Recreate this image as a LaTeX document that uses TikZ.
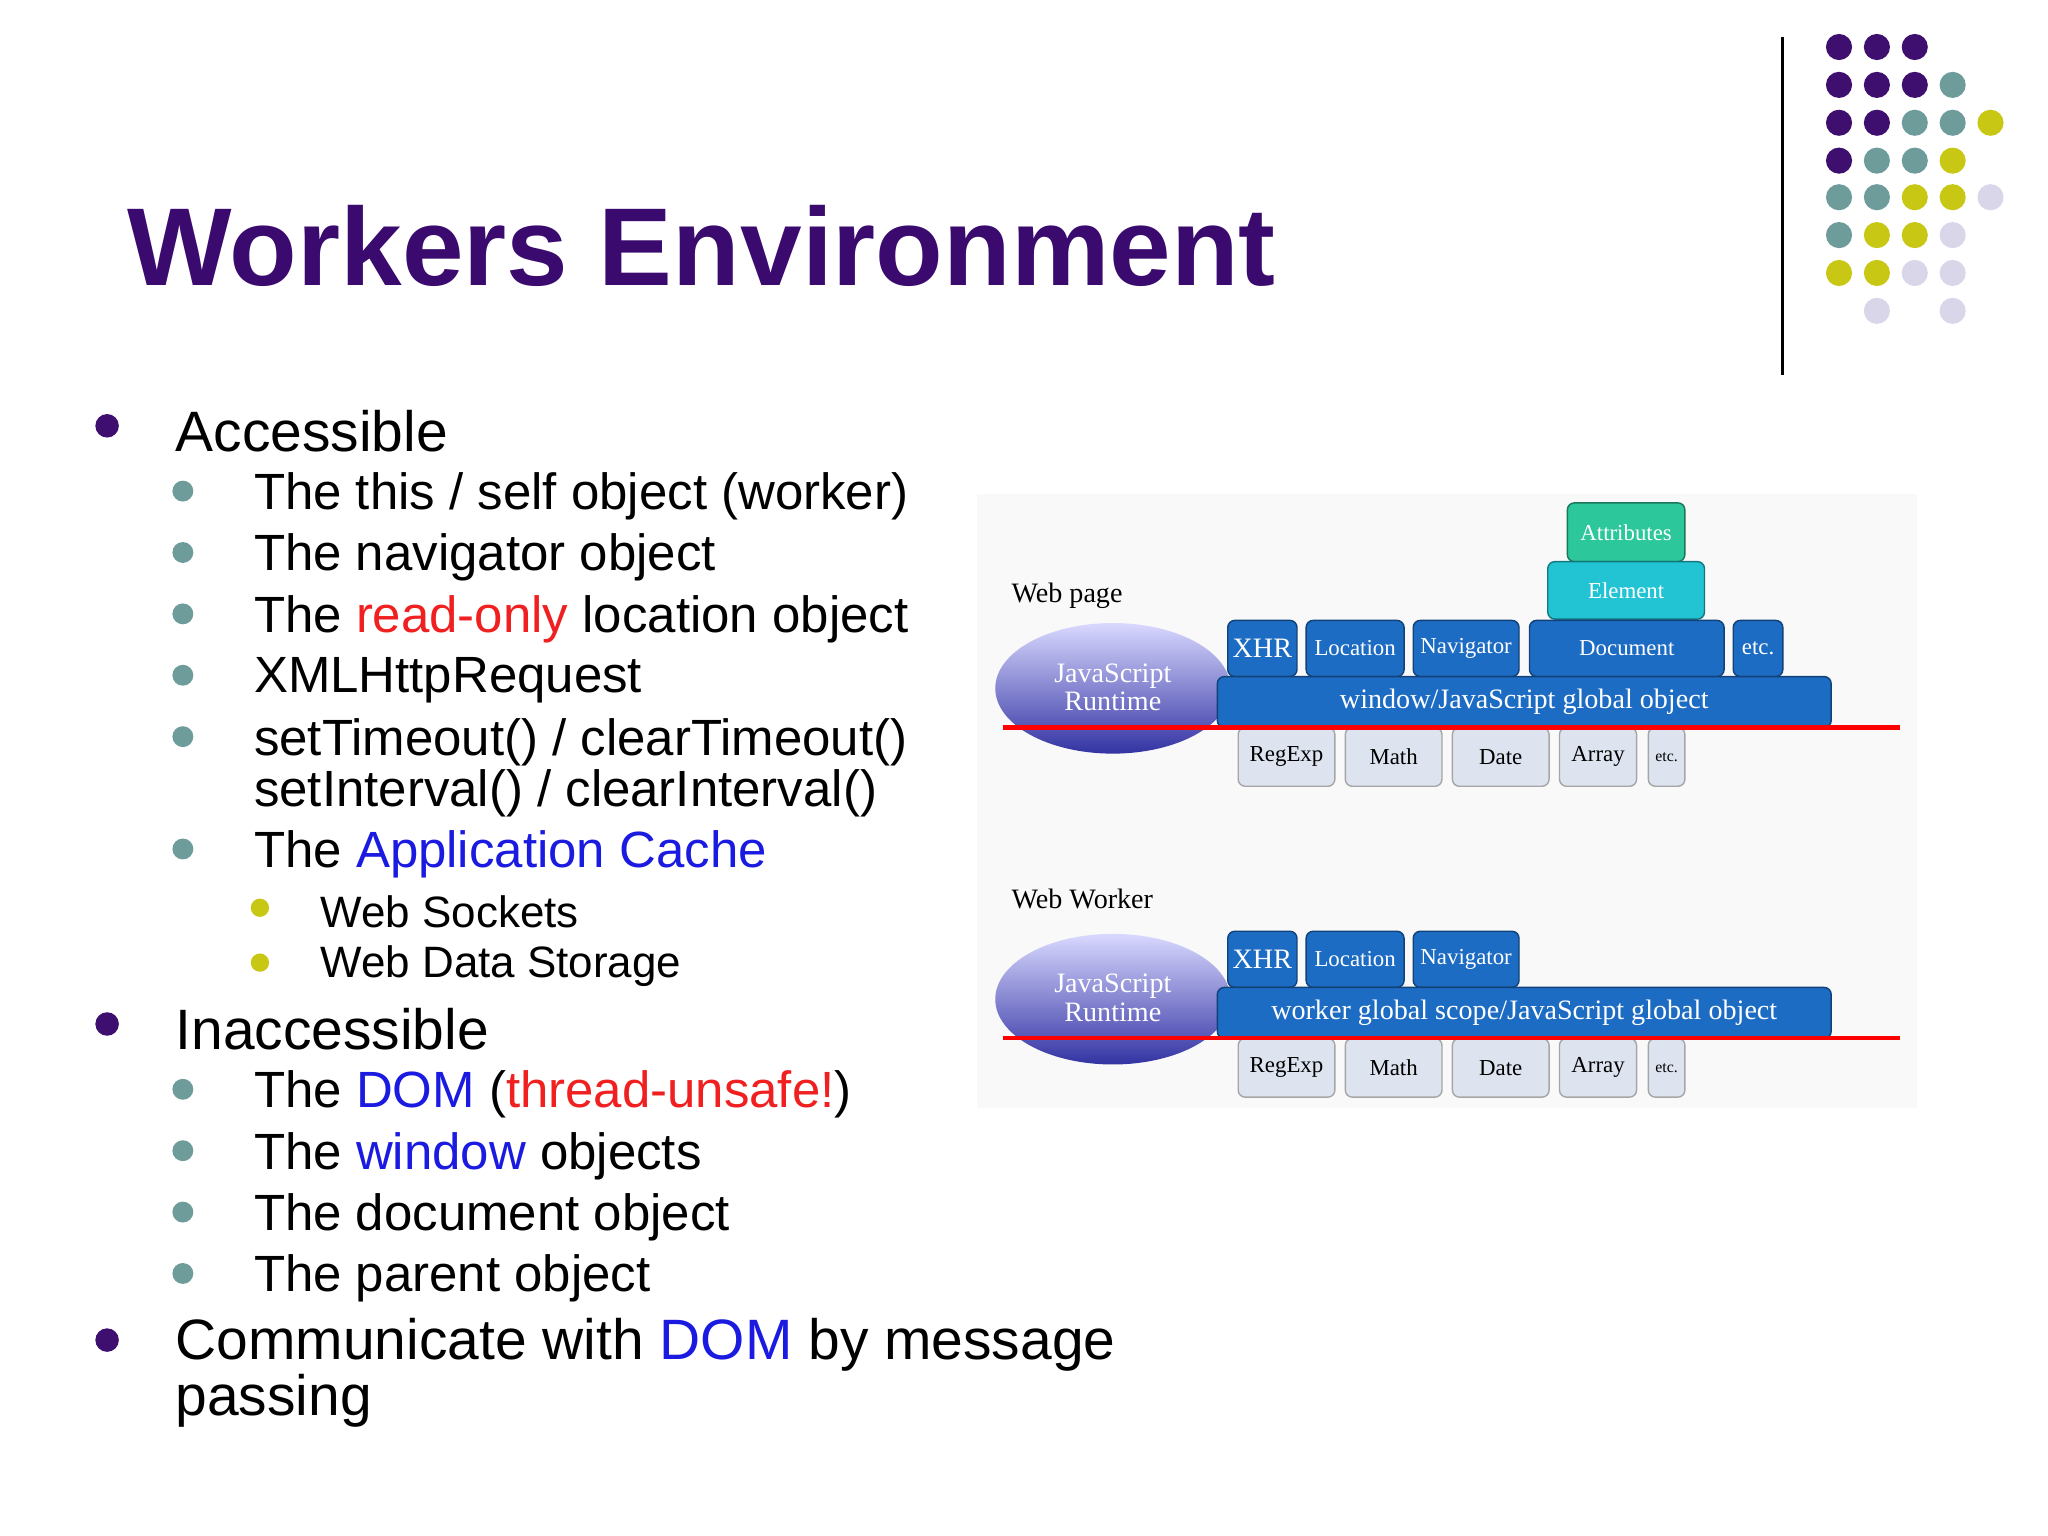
\documentclass[tikz,border=0pt]{standalone}
\usepackage{fontspec}
\setmainfont{Liberation Sans}
\newfontfamily\dgfont{Liberation Serif}
\usetikzlibrary{shapes.geometric}
\definecolor{ttlpurple}{HTML}{3A0A6E}
\definecolor{dotpurple}{HTML}{3E0F6E}
\definecolor{dotteal}{HTML}{6E9C9A}
\definecolor{dotyellow}{HTML}{C8C814}
\definecolor{dotlav}{HTML}{DAD6EA}
\definecolor{txtred}{HTML}{F02020}
\definecolor{txtblue}{HTML}{1A1AE0}
\definecolor{boxblue}{HTML}{1D6CC4}
\definecolor{boxcyan}{HTML}{22C4D4}
\definecolor{boxgreen}{HTML}{2CC79A}
\definecolor{boxgrey}{HTML}{DDE4F0}
\tikzset{
  lvlone/.style={anchor=west, font=\fontsize{16.2}{14}\selectfont},
  lvltwo/.style={anchor=west, font=\fontsize{14.5}{13}\selectfont, align=left},
  lvlthree/.style={anchor=west, font=\fontsize{12.5}{14}\selectfont},
  topbox/.style={draw=boxblue!60!black, fill=boxblue, rounded corners=2pt, text=white, font=\dgfont\fontsize{6.5}{7}\selectfont},
  lowbox/.style={draw=gray!70, fill=boxgrey, rounded corners=2pt, font=\dgfont\fontsize{6.5}{7}\selectfont},
  barbox/.style={draw=boxblue!60!black, fill=boxblue, rounded corners=2pt, text=white, font=\dgfont\fontsize{8}{9}\selectfont},
}
\begin{document}
\begin{tikzpicture}[x=0.01306cm, y=-0.01306cm]
\useasboundingbox[fill=white] (0,0) rectangle (1568,1176);

% Title
\node[anchor=west, font=\bfseries\fontsize{31.5}{34}\selectfont, text=ttlpurple] (title) at (88,188) {Workers Environment};

% Divider and dot grid
\draw[thick] (1365,28) -- (1365,287);
\foreach \c/\x/\y in {
  dotpurple/1408/36, dotpurple/1437/36, dotpurple/1466/36,
  dotpurple/1408/65, dotpurple/1437/65, dotpurple/1466/65, dotteal/1495/65,
  dotpurple/1408/94, dotpurple/1437/94, dotteal/1466/94, dotteal/1495/94, dotyellow/1524/94,
  dotpurple/1408/123, dotteal/1437/123, dotteal/1466/123, dotyellow/1495/123,
  dotteal/1408/151, dotteal/1437/151, dotyellow/1466/151, dotyellow/1495/151, dotlav/1524/151,
  dotteal/1408/180, dotyellow/1437/180, dotyellow/1466/180, dotlav/1495/180,
  dotyellow/1408/209, dotyellow/1437/209, dotlav/1466/209, dotlav/1495/209,
  dotlav/1437/238, dotlav/1495/238}
  \fill[\c] (\x,\y) circle (10);

% Bullets
\foreach \y in {326,784,1026} \fill[dotpurple] (82,\y) circle (9);
\foreach \y in {376,423,470,517,564,650,834,881,928,975} \fill[dotteal] (140,\y) circle (8);
\foreach \y in {695,737} \fill[dotyellow] (199,\y) circle (7);

\node[lvlone] (acc) at (125,330) {Accessible};
\node[lvltwo] (a1) at (185,380) {The this / self object (worker)};
\node[lvltwo] (a2) at (185,427) {The navigator object};
\node[lvltwo] (a3) at (185,474) {The \textcolor{txtred}{read-only} location object};
\node[lvltwo] (a4) at (185,521) {XMLHttpRequest};
\node[lvltwo] (a5) at (185,588) {setTimeout() / clearTimeout()\\setInterval() / clearInterval()};
\node[lvltwo] (a6) at (185,654) {The \textcolor{txtblue}{Application Cache}};
\node[lvlthree] (a7) at (236,698) {Web Sockets};
\node[lvlthree] (a8) at (236,740) {Web Data Storage};
\node[lvlone] (inacc) at (125,788) {Inaccessible};
\node[lvltwo] (i1) at (185,838) {The \textcolor{txtblue}{DOM} (\textcolor{txtred}{thread-unsafe!})};
\node[lvltwo] (i2) at (185,885) {The \textcolor{txtblue}{window} objects};
\node[lvltwo] (i3) at (185,932) {The document object};
\node[lvltwo] (i4) at (185,979) {The parent object};
\node[lvlone, align=left] (comm) at (125,1051) {Communicate with \textcolor{txtblue}{DOM} by message\\passing};

% Diagram
\fill[gray!5] (748,378) rectangle (1468,848);
\node[anchor=west, font=\dgfont\fontsize{8}{9}\selectfont] (wp) at (765,456) {Web page};
\node[anchor=west, font=\dgfont\fontsize{8}{9}\selectfont] (ww) at (765,688) {Web Worker};
\draw[topbox, draw=boxgreen!60!black, fill=boxgreen] (1200,385) rectangle (1290,430) node[midway] (attr) {Attributes};
\draw[topbox, draw=boxcyan!60!black, fill=boxcyan] (1185,430) rectangle (1305,474) node[midway] (elem) {Element};
\draw[topbox] (1171,475) rectangle (1320,518) node[midway] (doc) {Document};
\draw[topbox] (1327,475) rectangle (1365,518) node[midway] (etcp) {etc.};
\foreach \off/\nm/\bar in {0/p/{window/JavaScript global object}, 238/w/{worker global scope/JavaScript global object}} {
  \shade[top color=blue!15, bottom color=blue!55!black!80] (852,527+\off) ellipse [x radius=90, y radius=50];
  \node[text=white, align=center, font=\dgfont\fontsize{8}{8}\selectfont] (js\nm) at (852,526+\off) {JavaScript\\Runtime};
  \draw[topbox] (940,475+\off) rectangle (993,518+\off) node[midway, font=\dgfont\fontsize{8}{9}\selectfont] (xhr\nm) {XHR};
  \draw[topbox] (1000,475+\off) rectangle (1075,518+\off) node[midway] (loc\nm) {Location};
  \draw[topbox] (1082,475+\off) rectangle (1163,518+\off) node[midway] (nav\nm) {Navigator};
  \draw[barbox] (932,518+\off) rectangle (1402,557+\off) node[midway] (bar\nm) {\bar};
  \draw[lowbox] (948,557+\off) rectangle (1022,602+\off) node[midway] (re\nm) {RegExp};
  \draw[lowbox] (1030,557+\off) rectangle (1104,602+\off) node[midway] (ma\nm) {Math};
  \draw[lowbox] (1112,557+\off) rectangle (1186,602+\off) node[midway] (da\nm) {Date};
  \draw[lowbox] (1194,557+\off) rectangle (1253,602+\off) node[midway] (ar\nm) {Array};
  \draw[lowbox] (1262,557+\off) rectangle (1290,602+\off) node[midway, font=\dgfont\fontsize{4.5}{5}\selectfont] (et\nm) {etc.};
  \draw[red, line width=1.2pt] (768,557+\off) -- (1455,557+\off);
}
\end{tikzpicture}
\end{document}
